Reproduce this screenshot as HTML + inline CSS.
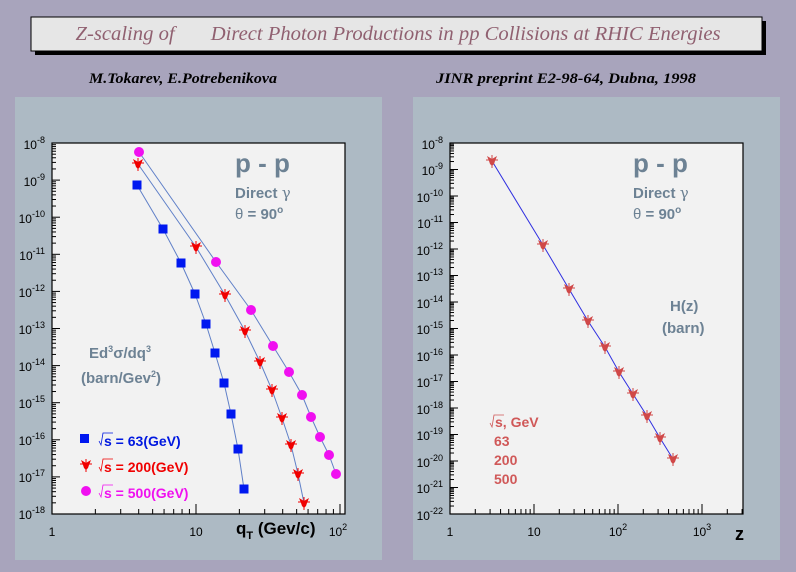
<!DOCTYPE html>
<html><head><meta charset="utf-8"><style>
body{margin:0;background:#a8a4bc;}
svg{display:block;font-family:"Liberation Sans",sans-serif;}
</style></head><body>
<svg id="s" width="796" height="572" xmlns="http://www.w3.org/2000/svg">
<rect width="796" height="572" fill="#a8a4bc"/>
<rect x="35" y="21" width="731" height="34" fill="#000"/>
<rect x="31" y="17" width="731" height="34" fill="#e6e6e6" stroke="#000" stroke-width="1"/>
<text x="398" y="40" text-anchor="middle" font-family="Liberation Serif,serif" font-style="italic" font-size="20" fill="#906070" xml:space="preserve" textLength="645" lengthAdjust="spacingAndGlyphs">Z-scaling of       Direct Photon Productions in pp Collisions at RHIC Energies</text>
<text x="183" y="83" text-anchor="middle" font-family="Liberation Serif,serif" font-style="italic" font-weight="bold" font-size="15" textLength="188" lengthAdjust="spacingAndGlyphs">M.Tokarev, E.Potrebenikova</text>
<text x="566" y="83" text-anchor="middle" font-family="Liberation Serif,serif" font-style="italic" font-weight="bold" font-size="15" textLength="260" lengthAdjust="spacingAndGlyphs">JINR preprint E2-98-64, Dubna, 1998</text>
<rect x="15" y="97" width="367" height="463" fill="#adbac4"/>
<rect x="413" y="97" width="367" height="463" fill="#adbac4"/>
<rect x="52" y="143" width="293" height="371" fill="#f2f2f2" stroke="#000" stroke-width="1.2"/>
<rect x="450" y="143" width="293" height="371" fill="#f2f2f2" stroke="#000" stroke-width="1.2"/>
<g id="ticks" stroke="#000" stroke-width="1"></g>
<g id="curves" fill="none" stroke-width="1"></g>
<g id="marks"></g>
<g font-size="12" text-anchor="end">
<text x="45" y="149">10<tspan dy="-6" font-size="9">-8</tspan></text>
<text x="45" y="186">10<tspan dy="-6" font-size="9">-9</tspan></text>
<text x="45" y="223">10<tspan dy="-6" font-size="9">-10</tspan></text>
<text x="45" y="260">10<tspan dy="-6" font-size="9">-11</tspan></text>
<text x="45" y="297">10<tspan dy="-6" font-size="9">-12</tspan></text>
<text x="45" y="334">10<tspan dy="-6" font-size="9">-13</tspan></text>
<text x="45" y="371">10<tspan dy="-6" font-size="9">-14</tspan></text>
<text x="45" y="408">10<tspan dy="-6" font-size="9">-15</tspan></text>
<text x="45" y="445">10<tspan dy="-6" font-size="9">-16</tspan></text>
<text x="45" y="482">10<tspan dy="-6" font-size="9">-17</tspan></text>
<text x="45" y="519">10<tspan dy="-6" font-size="9">-18</tspan></text>
</g>
<g font-size="12" text-anchor="end">
<text x="443" y="149">10<tspan dy="-6" font-size="9">-8</tspan></text>
<text x="443" y="175">10<tspan dy="-6" font-size="9">-9</tspan></text>
<text x="443" y="202">10<tspan dy="-6" font-size="9">-10</tspan></text>
<text x="443" y="228">10<tspan dy="-6" font-size="9">-11</tspan></text>
<text x="443" y="255">10<tspan dy="-6" font-size="9">-12</tspan></text>
<text x="443" y="281">10<tspan dy="-6" font-size="9">-13</tspan></text>
<text x="443" y="308">10<tspan dy="-6" font-size="9">-14</tspan></text>
<text x="443" y="334">10<tspan dy="-6" font-size="9">-15</tspan></text>
<text x="443" y="361">10<tspan dy="-6" font-size="9">-16</tspan></text>
<text x="443" y="387">10<tspan dy="-6" font-size="9">-17</tspan></text>
<text x="443" y="414">10<tspan dy="-6" font-size="9">-18</tspan></text>
<text x="443" y="440">10<tspan dy="-6" font-size="9">-19</tspan></text>
<text x="443" y="467">10<tspan dy="-6" font-size="9">-20</tspan></text>
<text x="443" y="493">10<tspan dy="-6" font-size="9">-21</tspan></text>
<text x="443" y="520">10<tspan dy="-6" font-size="9">-22</tspan></text>
</g>
<g font-size="12" text-anchor="middle">
<text x="52" y="536">1</text><text x="196" y="536">10</text><text x="338" y="536">10<tspan dy="-6" font-size="9">2</tspan></text>
<text x="450" y="536">1</text><text x="534" y="536">10</text><text x="618" y="536">10<tspan dy="-6" font-size="9">2</tspan></text><text x="702" y="536">10<tspan dy="-6" font-size="9">3</tspan></text>
</g>
<text x="236" y="534" font-size="17" font-weight="bold">q<tspan font-size="11" dy="5">T</tspan><tspan dy="-5"> (Gev/c)</tspan></text>
<text x="735" y="540" font-size="18" font-weight="bold">z</text>
<g fill="#6d8294" font-weight="bold">
<text x="235" y="172" font-size="26">p - p</text>
<text x="235" y="198" font-size="15">Direct <tspan font-weight="normal" font-family="DejaVu Serif,serif">γ</tspan></text>
<text x="235" y="219" font-size="15"><tspan font-weight="normal">θ</tspan> = 90<tspan dy="-6" font-size="10">o</tspan></text>
<text x="633" y="172" font-size="26">p - p</text>
<text x="633" y="198" font-size="15">Direct <tspan font-weight="normal" font-family="DejaVu Serif,serif">γ</tspan></text>
<text x="633" y="219" font-size="15"><tspan font-weight="normal">θ</tspan> = 90<tspan dy="-6" font-size="10">o</tspan></text>
<text x="89" y="358" font-size="15">Ed<tspan dy="-6" font-size="9">3</tspan><tspan dy="6">σ/dq</tspan><tspan dy="-6" font-size="9">3</tspan></text>
<text x="81" y="383" font-size="15">(barn/Gev<tspan dy="-6" font-size="9">2</tspan><tspan dy="6">)</tspan></text>
<text x="670" y="311" font-size="15">H(z)</text>
<text x="662" y="333" font-size="15">(barn)</text>
</g>
<g font-size="14" font-weight="bold">
<rect x="80" y="434" width="9" height="9" fill="#0018f0"/>
<text x="104" y="446" fill="#0018e0">s = 63(GeV)</text>
<text x="104" y="472" fill="#f00000">s = 200(GeV)</text>
<circle cx="86" cy="491" r="5" fill="#f010f0"/>
<text x="104" y="498" fill="#f010f0">s = 500(GeV)</text>
<path d="M99 441 l2 4 l2 -12 h10" fill="none" stroke="#0018e0" stroke-width="0.8"/>
<path d="M99 467 l2 4 l2 -12 h10" fill="none" stroke="#f00000" stroke-width="0.8"/>
<path d="M99 493 l2 4 l2 -12 h10" fill="none" stroke="#f010f0" stroke-width="0.8"/>
</g>
<g font-size="14" font-weight="bold" fill="#d05858">
<text x="495" y="427">s, GeV</text>
<path d="M490 423 l2 4 l2 -12 h10" fill="none" stroke="#d05858" stroke-width="0.8"/>
<text x="494" y="446">63</text><text x="494" y="465">200</text><text x="494" y="484">500</text>
</g>
</svg>
<script>
const NS="http://www.w3.org/2000/svg";
function el(p,t,a){const e=document.createElementNS(NS,t);for(const k in a)e.setAttribute(k,a[k]);document.getElementById(p).appendChild(e);return e;}
function L(x1,y1,x2,y2){el("ticks","line",{x1,y1,x2,y2});}
for(let d=0;d<10;d++){for(let m=1;m<=9;m++){const y=514-37.1*(d+Math.log10(m));const len=m==1?8:4;L(52,y,52+len,y);}}
L(52,143,60,143);
for(let d=0;d<3;d++){for(let m=1;m<=9;m++){const x=52+144*(d+Math.log10(m));if(x>345)continue;const len=m==1?10:5;L(x,514,x,514-len);}}
for(let d=0;d<14;d++){for(let m=1;m<=9;m++){const y=514-26.5*(d+Math.log10(m));const len=m==1?8:4;L(450,y,450+len,y);}}
L(450,143,458,143);
for(let d=0;d<4;d++){for(let m=1;m<=9;m++){const x=450+84*(d+Math.log10(m));if(x>743)continue;const len=m==1?10:5;L(x,514,x,514-len);}}
const B=[[137,185],[163,229],[181,263],[195,294],[206,324],[215,353],[224,383],[231,414],[238,449],[244,489]];
const R=[[138,164],[196,247],[225,295],[245,331],[260,362],[272,390],[282,418],[291,445],[298,474],[304,503]];
const M=[[139,152],[216,262],[251,310],[273,346],[289,372],[302,395],[311,417],[320,437],[329,455],[336,474]];
const Z=[[492,161],[543,245],[569,289],[588,321],[605,347],[619,372],[633,394],[647,416],[660,438],[673,459]];
const pts=a=>a.map(p=>p.join(",")).join(" ");
el("curves","polyline",{points:pts(B),stroke:"#6080c8"});
el("curves","polyline",{points:pts(R),stroke:"#6080c8"});
el("curves","polyline",{points:pts(M),stroke:"#6080c8"});
el("curves","polyline",{points:pts(Z),stroke:"#3030e0"});
B.forEach(([x,y])=>el("marks","rect",{x:x-4.5,y:y-4.5,width:9,height:9,fill:"#0018f0"}));
M.forEach(([x,y])=>el("marks","circle",{cx:x,cy:y,r:5,fill:"#f010f0"}));
function star(x,y,c){el("marks","path",{d:`M${x-5} ${y-5} L${x} ${y-2} L${x+5} ${y-5} L${x+3} ${y} L${x+2} ${y+3} L${x} ${y+5} L${x-2} ${y+3} L${x-3} ${y} Z`,fill:c});el("marks","line",{x1:x,y1:y-6,x2:x,y2:y+7,stroke:c});el("marks","line",{x1:x-6,y1:y-1,x2:x+6,y2:y-1,stroke:c});}
R.forEach(([x,y])=>star(x,y,"#f00000"));
Z.forEach(([x,y])=>star(x,y,"#d04848"));
star(86,465,"#f00000");
</script>
</body></html>
